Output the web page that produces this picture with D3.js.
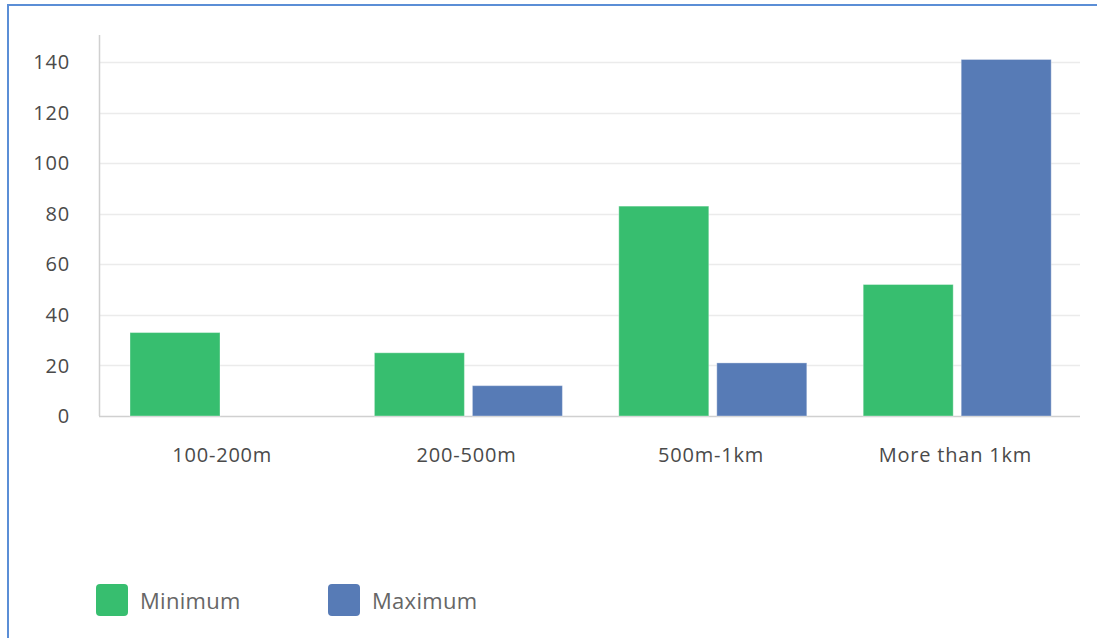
<!DOCTYPE html>
<html><head><meta charset="utf-8">
<script src="https://cdn.jsdelivr.net/npm/d3@7"></script>
<style>
html,body{margin:0;padding:0;background:#fff;}
svg{display:block;}
text{font-family:"Open Sans",sans-serif;}
</style></head>
<body>
<svg id="c" width="1097" height="638"></svg>
<script>
const categories = ["100-200m","200-500m","500m-1km","More than 1km"];
const seriesNames = ["Minimum","Maximum"];
const minimumValues = [33,25,83,52];
const maximumValues = [0,12,21,141];
const yTicks = [0,20,40,60,80,100,120,140];
const colors = ["#37BE6F","#577BB6"];

const svg = d3.select("#c");
// frame
svg.append("line").attr("x1",7).attr("x2",1097).attr("y1",5).attr("y2",5).attr("stroke","#5B8ED6").attr("stroke-width",2);
svg.append("line").attr("x1",8).attr("x2",8).attr("y1",4).attr("y2",638).attr("stroke","#5B8ED6").attr("stroke-width",2);

const y = d3.scaleLinear().domain([0,140]).range([416,62]);
const x0 = d3.scaleBand().domain(categories).range([100,1077.6]).padding(0);
const x1 = d3.scaleBand().domain(seriesNames).range([0,188]).paddingInner(8/98).paddingOuter(0);
const groupOffset = 30;

// gridlines
svg.append("g").selectAll("line").data(yTicks.filter(d=>d>0)).join("line")
  .attr("x1",100).attr("x2",1080).attr("y1",d=>Math.round(y(d))+0.5).attr("y2",d=>Math.round(y(d))+0.5)
  .attr("stroke","#ebebeb").attr("stroke-width",1.5);

// y tick labels
svg.append("g").selectAll("text").data(yTicks).join("text")
  .attr("x",70).attr("y",d=>y(d)).attr("dy","0.36em").attr("text-anchor","end")
  .attr("font-size",20).attr("letter-spacing","0.8px").attr("fill","#4a4a4a").text(d=>d);

// axes lines
svg.append("line").attr("x1",99.5).attr("x2",99.5).attr("y1",35).attr("y2",416).attr("stroke","#d0d0d0").attr("stroke-width",1.5);
svg.append("line").attr("x1",99).attr("x2",1080).attr("y1",416.5).attr("y2",416.5).attr("stroke","#d0d0d0").attr("stroke-width",1.5);

const data = categories.map((c,i)=>({cat:c, vals:[minimumValues[i], maximumValues[i]]}));
const groups = svg.append("g").selectAll("g").data(data).join("g")
  .attr("transform",d=>`translate(${x0(d.cat)+groupOffset},0)`);
groups.selectAll("rect").data(d=>d.vals.map((v,j)=>({s:seriesNames[j],v,j}))).join("rect")
  .filter(d=>d.v>0)
  .attr("x",d=>x1(d.s)).attr("width",x1.bandwidth())
  .attr("y",d=>y(d.v)).attr("height",d=>416-y(d.v))
  .attr("fill",d=>colors[d.j]).attr("stroke","rgba(255,255,255,0.35)").attr("stroke-width",1);

// category labels
svg.append("g").selectAll("text").data(categories).join("text")
  .attr("x",d=>x0(d)+x0.bandwidth()/2).attr("y",455).attr("dy","0.36em").attr("text-anchor","middle")
  .attr("font-size",20).attr("letter-spacing","0.8px").attr("fill","#4a4a4a").text(d=>d);

// legend
const leg = svg.append("g").selectAll("g").data(seriesNames).join("g")
  .attr("transform",(d,i)=>`translate(${96+i*232},584)`);
leg.append("rect").attr("width",32).attr("height",32).attr("rx",4).attr("fill",(d,i)=>colors[i]);
leg.append("text").attr("x",44).attr("y",17).attr("dy","0.36em").attr("font-size",22)
  .attr("letter-spacing","0.3px").attr("fill","#666").text(d=>d);
</script>
</body></html>
